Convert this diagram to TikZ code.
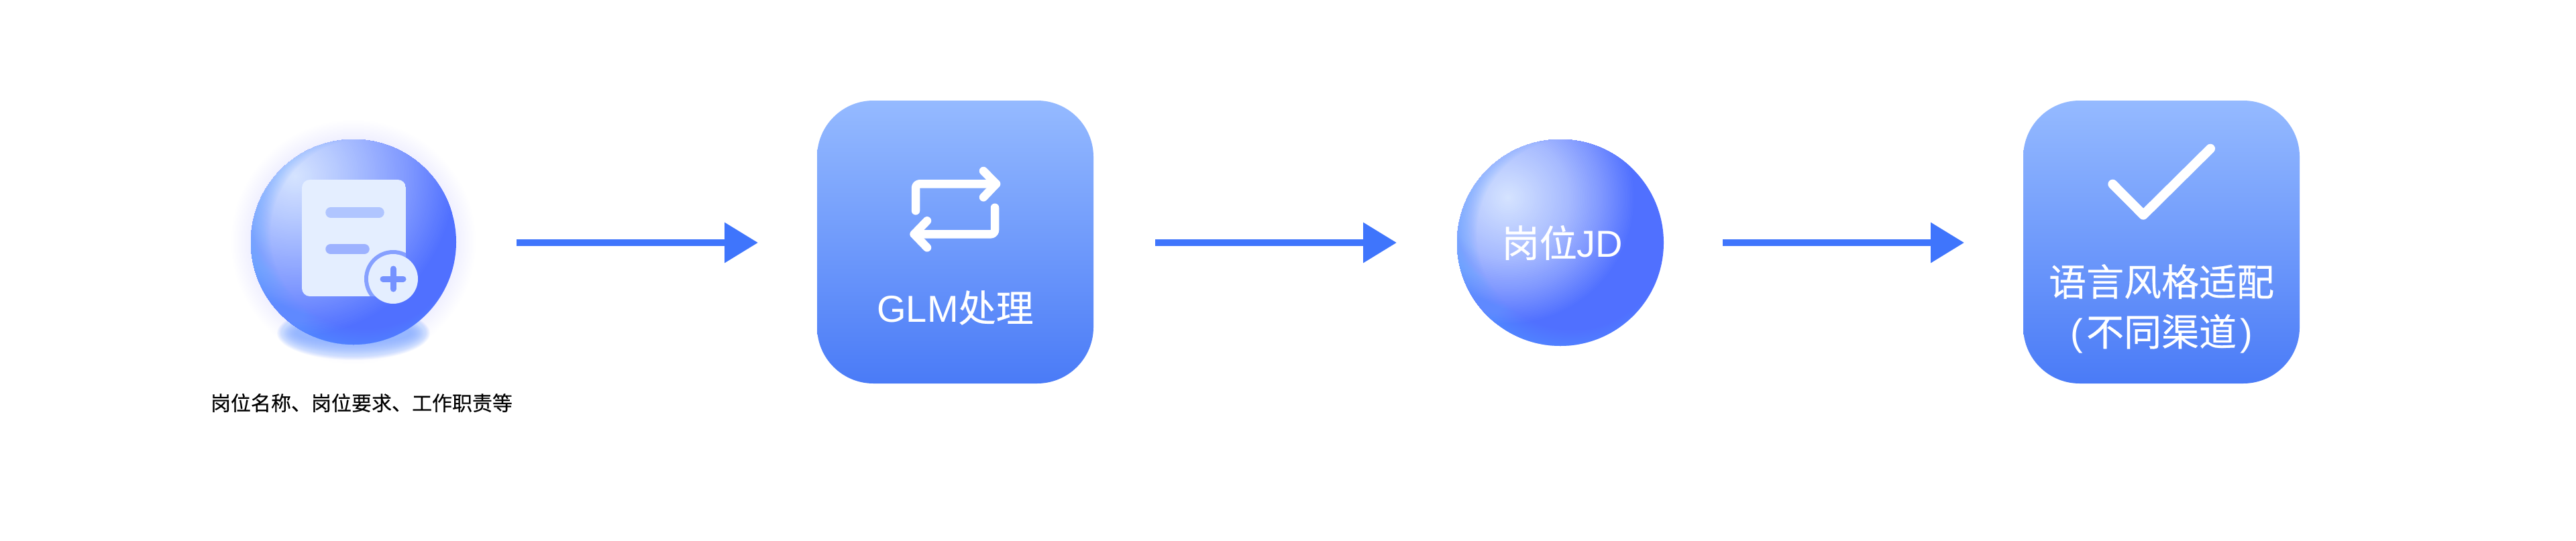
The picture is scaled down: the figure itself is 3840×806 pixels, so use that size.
\documentclass[tikz,border=0pt]{standalone}
\usepackage{fontspec}
\usetikzlibrary{arrows.meta,shapes.geometric}
\setmainfont{Liberation Sans}
\newfontfamily\cjk[FakeBold=0.3]{Noto Sans CJK SC}
\definecolor{flowblue}{HTML}{3F75FC}
\definecolor{cardtop}{HTML}{95BAFF}
\definecolor{cardbot}{HTML}{4A7BF7}
\definecolor{rimblue}{HTML}{5FA2FF}
\definecolor{spherebase}{HTML}{5070FF}
\definecolor{docpale}{HTML}{E4EEFF}
\definecolor{ringblue}{HTML}{86A0FF}
\definecolor{plusblue}{HTML}{7592FF}
\definecolor{haloblue}{HTML}{C8DCFF}
\definecolor{shadowblue}{HTML}{8CB0FF}
\definecolor{barone}{HTML}{B0C5FF}
\definecolor{bartwo}{HTML}{9DB2FF}
\definecolor{glowa}{HTML}{D6E4FF}
\definecolor{glowb}{HTML}{C6D6FF}
\definecolor{glowc}{HTML}{A6BAFF}
\definecolor{glowd}{HTML}{8098FF}
\definecolor{glowe}{HTML}{B8CBFF}
\definecolor{glowf}{HTML}{7F98FF}
% concentric discs: centre, outer radius, inner radius, outer colour, inner colour
\newcommand{\gradseg}[5]{%
  \pgfmathtruncatemacro\segn{(#2-#3)/2.5}%
  \foreach \i in {0,...,\segn}{%
    \pgfmathsetmacro\rr{#2-(#2-#3)*\i/\segn}%
    \pgfmathsetmacro\pc{100*\i/\segn}%
    \fill[#5!\pc!#4] #1 circle[radius=\rr];
  }}
\newcommand{\rimlayers}[3]{%
  \foreach \k in {0,...,20}{
    \fill[rimblue,fill opacity=0.04,even odd rule]
      (#1,#2) circle[radius=#3+3]
      ({#1+0.12*#3},{#2-0.08*#3}) circle[radius={(0.93+\k*0.0105)*#3}];
  }}
\tikzset{
  x=1pt,y=-1pt,
  sphere3/.style={circle,inner sep=0pt,outer sep=0pt,minimum size=#1,fill=spherebase},
  card/.style={rectangle,inner sep=0pt,outer sep=0pt,minimum width=412pt,minimum height=422pt,rounded corners=84pt,top color=cardtop,bottom color=cardbot},
  flow/.style={draw=flowblue,line width=10pt,-{Triangle[length=50pt,width=58pt,fill=flowblue]},shorten <=#1},
  iconline/.style={draw=white,line width=12.5pt,line cap=round,line join=round},
  whitelabel/.style={text=white,inner sep=0pt,font=\fontsize{56pt}{70pt}\selectfont},
}
\begin{document}
\begin{tikzpicture}
\useasboundingbox (0,0) rectangle (3840,806);
\fill[white] (0,0) rectangle (3840,806);
\coordinate (axis) at (0,362);
% soft shadow under the first sphere
\foreach \k in {0,...,24}{
  \fill[shadowblue,fill opacity=0.075] (527,497) ellipse[x radius={114-\k*1.2},y radius={40-\k*1.1}];
}
% halo of the first sphere
\foreach \k in {0,...,14}{
  \fill[haloblue,fill opacity=0.006] (527,361) circle[radius={182-\k*2}];
}
\node[sphere3=306pt] (input) at (527,361) {};
\begin{scope}
  \clip (527,361) circle[radius=153];
  \gradseg{(440,263)}{240}{170}{spherebase}{glowf}
  \gradseg{(440,263)}{170}{62}{glowf}{glowe}
  \gradseg{(440,263)}{62}{0}{glowe}{glowa}
  \rimlayers{527}{361}{153}
\end{scope}
% document icon
\begin{scope}
  \clip[rounded corners=12pt] (450,268) rectangle (605,442);
  \fill[docpale] (450,268) rectangle (605,442);
  \fill[ringblue] (586,416) circle[radius=43];
\end{scope}
\fill[docpale] (586,416) circle[radius=37];
\draw[line width=15.5pt,line cap=round,draw=barone] (493,317) -- (565,317);
\draw[line width=15.5pt,line cap=round,draw=bartwo] (493,371.5) -- (543,371.5);
\draw[line width=9pt,line cap=round,draw=plusblue] (571,416) -- (601,416);
\draw[line width=9pt,line cap=round,draw=plusblue] (586,401) -- (586,431);
\node[inner sep=0pt,text=black,font=\cjk\fontsize{30pt}{36pt}\selectfont] (inputlabel) at (539,601) {岗位名称、岗位要求、工作职责等};
% GLM card
\node[card] (glm) at (1424,361) {};
\draw[iconline,rounded corners=6pt] (1365,314.3) -- (1365,274.3) -- (1485,274.3);
\draw[iconline] (1466,255) -- (1485,274.3) -- (1466,294.3);
\draw[iconline,rounded corners=6pt] (1483,309.7) -- (1483,349.3) -- (1362.7,349.3);
\draw[iconline] (1382,329.3) -- (1362.7,349.3) -- (1382,369.3);
\node[whitelabel] (glmlabel) at (1424,459) {GLM{\cjk 处理}};
% JD sphere
\node[sphere3=308pt] (jd) at (2326,362) {};
\begin{scope}
  \clip (2326,362) circle[radius=154];
  \gradseg{(2248,295)}{190}{139}{spherebase}{glowd}
  \gradseg{(2248,295)}{139}{92}{glowd}{glowc}
  \gradseg{(2248,295)}{92}{31}{glowc}{glowb}
  \gradseg{(2248,295)}{31}{0}{glowb}{glowa}
  \rimlayers{2326}{362}{154}
\end{scope}
\node[whitelabel] (jdlabel) at (2329,362) {{\cjk 岗位}JD};
% style card
\node[card] (style) at (3222,361) {};
\draw[iconline,line width=14pt] (3149.3,274.7) -- (3195,320.7) -- (3295,221.7);
\node[whitelabel] (stylelabel) at (3222,420) {\cjk 语言风格适配};
\node[whitelabel] (channellabel) at (3222,498) {(\kern5pt{\cjk 不同渠道}\kern5pt)};
% connectors
\draw[flow=90pt,shorten >=88pt] (input.east |- axis) -- (glm.west |- axis);
\draw[flow=92pt,shorten >=90pt] (glm.east |- axis) -- (jd.west |- axis);
\draw[flow=88pt,shorten >=88pt] (jd.east |- axis) -- (style.west |- axis);
\end{tikzpicture}
\end{document}
